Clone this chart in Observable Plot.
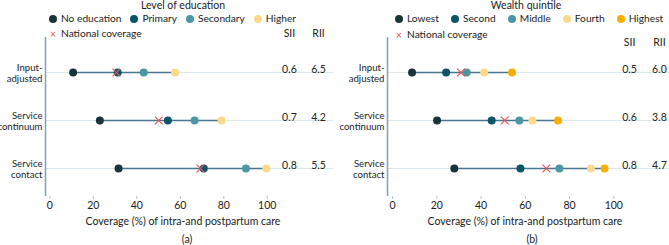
<!DOCTYPE html>
<html><head><meta charset="utf-8">
<script src="https://cdn.jsdelivr.net/npm/d3@7"></script>
<script src="https://cdn.jsdelivr.net/npm/@observablehq/plot@0.6"></script>
<style>
body{margin:0;background:#fff;font-family:Lato,sans-serif;color:#222;}
#wrap{display:flex;width:669px;height:245px;overflow:hidden;}
.panel{position:relative;height:245px;flex:none;}
.panel svg{position:absolute;left:0;top:0;overflow:visible;}
.abs{position:absolute;font-size:10.5px;line-height:11px;white-space:nowrap;}
.legrow{display:flex;align-items:center;font-size:10.2px;}
.sw{display:inline-block;width:8px;height:8px;border-radius:50%;margin-right:4px;}
.item{display:flex;align-items:center;}
.x{color:#e8585a;font-size:11px;margin-right:4px;width:8px;text-align:center;}
.ctr{transform:translateX(-50%);}
</style></head><body>
<div id="wrap"></div>
<script>
// ---- data ----
const rows = ["Input-adjusted", "Service continuum", "Service contact"];
const rowLabels = ["Input-\nadjusted", "Service\ncontinuum", "Service\ncontact"];
const xTicks = [0, 20, 40, 60, 80, 100];

const eduTitle = "Level of education";
const eduGroups = ["No education", "Primary", "Secondary", "Higher"];
const eduColors = ["#17343b", "#0b5566", "#4b97a3", "#fdd98b"];
const eduInput = [10.7, 31.2, 43.2, 57.6];
const eduContinuum = [23, 54.3, 66.6, 79];
const eduContact = [31.6, 70.8, 90.2, 99.6];
const eduNational = [30.6, 50.1, 69.3];
const eduSII = ["0.6", "0.7", "0.8"];
const eduRII = ["6.5", "4.2", "5.5"];

const wealthTitle = "Wealth quintile";
const wealthGroups = ["Lowest", "Second", "Middle", "Fourth", "Highest"];
const wealthColors = ["#17343b", "#0b5566", "#4b97a3", "#fdd98b", "#f6ae00"];
const wealthInput = [8.8, 24.2, 33.5, 41.4, 54.0];
const wealthContinuum = [20.1, 44.8, 57.3, 63.2, 74.8];
const wealthContact = [27.9, 57.8, 75.4, 89.6, 95.8];
const wealthNational = [30.9, 50.7, 69.5];
const wealthSII = ["0.5", "0.6", "0.8"];
const wealthRII = ["6.0", "3.8", "4.7"];

const nationalLabel = "National coverage";
const xLabel = "Coverage (%) of intra-and postpartum care";

function makePanel(cfg) {
  const {groups, colors, series, national, sii, rii, title, caption} = cfg;
  const points = [];
  rows.forEach((row, i) => groups.forEach((g, j) => points.push({row, group: g, value: series[i][j]})));
  const ranges = rows.map((row, i) => ({row, min: d3.min(series[i]), max: d3.max(series[i])}));
  const nat = rows.map((row, i) => ({row, value: national[i]}));
  const stats = rows.map((row, i) => ({row, sii: sii[i], rii: rii[i]}));

  const div = document.createElement("div");
  div.className = "panel";
  div.style.width = cfg.width + "px";

  const svg = Plot.plot({
    width: cfg.width, height: 228,
    marginTop: 37, marginBottom: 32, marginLeft: cfg.ml, marginRight: cfg.mr,
    style: {fontFamily: "Lato, sans-serif", fontSize: "10.5px", color: "#222", background: "transparent", overflow: "visible"},
    x: {domain: cfg.xDomain},
    y: {type: "point", domain: rows, range: [72, 168], padding: 0},
    color: {domain: groups, range: colors},
    marks: [
      Plot.ruleY(rows, {stroke: "#dbe9ef", strokeWidth: 1, x1: cfg.xDomain[0], x2: cfg.xDomain[1] + 6}),
      Plot.axisX({ticks: xTicks, tickSize: 3, tickPadding: 2, stroke: "#a9c4cf", fill: "#222",
        label: xLabel, labelAnchor: "center", labelOffset: 28, labelArrow: "none"}),
      Plot.axisX({ticks: [], tickSize: 0, line: true, stroke: "#7ba3b4", strokeWidth: 1.5, label: null}),
      Plot.axisY({tickSize: 0, tickPadding: 3, tickFormat: d => rowLabels[rows.indexOf(d)], label: null,
        fill: "#222", fontSize: 9.6, lineHeight: 1.15}),
      Plot.ruleX([cfg.xDomain[0]], {stroke: "#7ba3b4", strokeWidth: 1.5}),
      Plot.ruleY(ranges, {y: "row", x1: "min", x2: "max", stroke: "#4a7590", strokeWidth: 1.5}),
      Plot.dot(points, {x: "value", y: "row", fill: "group", r: 4}),
      Plot.dot(nat, {x: "value", y: "row", symbol: "times", stroke: "#e8585a", r: 3.6, strokeWidth: 1.2}),
      Plot.text(stats, {x: cfg.siiX, y: "row", text: "sii", dy: -3}),
      Plot.text(stats, {x: cfg.riiX, y: "row", text: "rii", dy: -3}),
      Plot.text(["SII"], {x: cfg.siiX, frameAnchor: "top", lineAnchor: "middle", dy: cfg.headDy}),
      Plot.text(["RII"], {x: cfg.riiX, frameAnchor: "top", lineAnchor: "middle", dy: cfg.headDy})
    ]
  });
  div.appendChild(svg);

  const t = document.createElement("div");
  t.className = "abs ctr";
  t.style.left = cfg.titleX + "px"; t.style.top = "0px";
  t.textContent = title;
  div.appendChild(t);

  const leg = document.createElement("div");
  leg.className = "abs legrow";
  leg.style.left = cfg.legX + "px"; leg.style.top = "13px"; leg.style.gap = cfg.legGap + "px";
  groups.forEach((g, j) => {
    const it = document.createElement("div"); it.className = "item";
    const sw = document.createElement("span"); sw.className = "sw"; sw.style.background = colors[j];
    it.appendChild(sw);
    it.appendChild(document.createTextNode(g));
    leg.appendChild(it);
  });
  div.appendChild(leg);

  const nl = document.createElement("div");
  nl.className = "abs legrow";
  nl.style.left = cfg.legX + "px"; nl.style.top = cfg.natY + "px";
  nl.innerHTML = '<span class="x">\u00d7</span>' + nationalLabel;
  div.appendChild(nl);

  const cap = document.createElement("div");
  cap.className = "abs ctr";
  cap.style.left = cfg.capX + "px"; cap.style.top = "234px";
  cap.textContent = caption;
  div.appendChild(cap);
  return div;
}

const wrap = document.getElementById("wrap");
wrap.appendChild(makePanel({
  groups: eduGroups, colors: eduColors, series: [eduInput, eduContinuum, eduContact],
  national: eduNational, sii: eduSII, rii: eduRII, title: eduTitle, caption: "(a)",
  width: 334, ml: 45, mr: 14, xDomain: [-2, 124.5], siiX: 110.2, riiX: 123.6, headDy: -4,
  titleX: 183, legX: 49, legGap: 9, natY: 28, capX: 187
}));
wrap.appendChild(makePanel({
  groups: wealthGroups, colors: wealthColors, series: [wealthInput, wealthContinuum, wealthContact],
  national: wealthNational, sii: wealthSII, rii: wealthRII, title: wealthTitle, caption: "(b)",
  width: 335, ml: 53, mr: 7, xDomain: [-2.3, 122], siiX: 107.1, riiX: 120.6, headDy: 5,
  titleX: 192, legX: 61, legGap: 12, natY: 29, capX: 198
}));
</script>
</body></html>
